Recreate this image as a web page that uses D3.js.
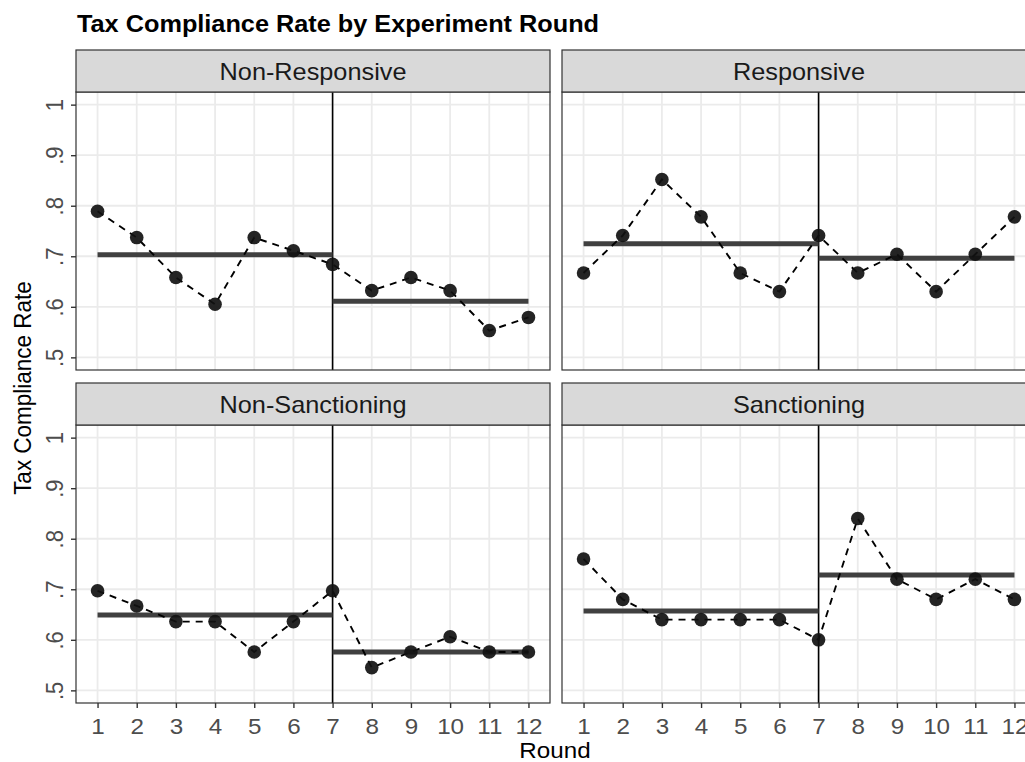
<!DOCTYPE html>
<html>
<head>
<meta charset="utf-8">
<script src="https://cdn.jsdelivr.net/npm/d3@7"></script>
<style>
  body { margin: 0; background: #fff; }
  svg { display: block; font-family: "Liberation Sans", Arial, Helvetica, sans-serif; }
</style>
</head>
<body>
<svg id="chart" width="1025" height="762"></svg>
<script>
// rounds of the experiment
var rounds = [1, 2, 3, 4, 5, 6, 7, 8, 9, 10, 11, 12];

// panel names, in facet order
var groups = ["Non-Responsive", "Responsive", "Non-Sanctioning", "Sanctioning"];

// compliance rate per round, one array per group
var nonResponsive  = [0.789, 0.737, 0.658, 0.605, 0.737, 0.711, 0.684, 0.632, 0.658, 0.632, 0.553, 0.579];
var responsive     = [0.667, 0.741, 0.852, 0.778, 0.667, 0.630, 0.741, 0.667, 0.704, 0.630, 0.704, 0.778];
var nonSanctioning = [0.697, 0.667, 0.636, 0.636, 0.576, 0.636, 0.697, 0.545, 0.576, 0.606, 0.576, 0.576];
var sanctioning    = [0.760, 0.680, 0.640, 0.640, 0.640, 0.640, 0.600, 0.840, 0.720, 0.680, 0.720, 0.680];

// group means before / after the break round
var preMeans  = [0.703, 0.725, 0.649, 0.657];
var postMeans = [0.611, 0.696, 0.576, 0.728];
var breakRound = 7;

var yTicks = [0.5, 0.6, 0.7, 0.8, 0.9, 1];
var yTickLabels = [".5", ".6", ".7", ".8", ".9", "1"];

var series = [nonResponsive, responsive, nonSanctioning, sanctioning];

// layout (the reference is a bit wider than tall, text is stretched)
var SX = 1.1,
    colX = [76, 562],
    rowY = [50, 383],
    stripH = 42,
    panelW = 474,
    panelH = 278;

var svg = d3.select("#chart");

var x = d3.scaleLinear().domain([0.45, 12.55]).range([0, panelW]);
var y = d3.scaleLinear().domain([0.475, 1.025]).range([panelH, 0]);

var line = d3.line()
    .x(function(d, i) { return x(rounds[i]); })
    .y(function(d) { return y(d); });

svg.append("text")
    .attr("transform", "translate(77,31.5) scale(" + SX + ",1)")
    .attr("font-size", 23)
    .attr("font-weight", "bold")
    .attr("fill", "#000")
    .text("Tax Compliance Rate by Experiment Round");

groups.forEach(function(name, k) {
  var col = k % 2, row = Math.floor(k / 2),
      vals = series[k];

  var g = svg.append("g")
      .attr("transform", "translate(" + colX[col] + "," + (rowY[row] + stripH) + ")");

  // strip
  svg.append("rect")
      .attr("x", colX[col]).attr("y", rowY[row])
      .attr("width", panelW).attr("height", stripH)
      .attr("fill", "#d9d9d9").attr("stroke", "#333").attr("stroke-width", 1.2);
  svg.append("text")
      .attr("transform", "translate(" + (colX[col] + panelW / 2) + "," + (rowY[row] + stripH / 2 + 8.5) + ") scale(" + SX + ",1)")
      .attr("text-anchor", "middle")
      .attr("font-size", 23)
      .attr("fill", "#1a1a1a")
      .text(name);

  // panel background + grid
  g.append("rect").attr("width", panelW).attr("height", panelH).attr("fill", "#fff");
  g.selectAll(".vgrid").data(rounds).enter().append("line")
      .attr("x1", x).attr("x2", x).attr("y1", 0).attr("y2", panelH)
      .attr("stroke", "#ebebeb").attr("stroke-width", 1.8);
  g.selectAll(".hgrid").data(yTicks).enter().append("line")
      .attr("x1", 0).attr("x2", panelW).attr("y1", y).attr("y2", y)
      .attr("stroke", "#ebebeb").attr("stroke-width", 1.8);

  // break round
  g.append("line")
      .attr("x1", x(breakRound)).attr("x2", x(breakRound))
      .attr("y1", 0).attr("y2", panelH)
      .attr("stroke", "#000").attr("stroke-width", 1.6);

  // mean segments
  g.append("line")
      .attr("x1", x(rounds[0])).attr("x2", x(breakRound))
      .attr("y1", y(preMeans[k])).attr("y2", y(preMeans[k]))
      .attr("stroke", "#404040").attr("stroke-width", 5);
  g.append("line")
      .attr("x1", x(breakRound)).attr("x2", x(rounds[rounds.length - 1]))
      .attr("y1", y(postMeans[k])).attr("y2", y(postMeans[k]))
      .attr("stroke", "#404040").attr("stroke-width", 5);

  // dashed path + points
  g.append("path")
      .datum(vals)
      .attr("d", line)
      .attr("fill", "none")
      .attr("stroke", "#000")
      .attr("stroke-width", 1.9)
      .attr("stroke-dasharray", "7,6");
  g.selectAll(".pt").data(vals).enter().append("circle")
      .attr("cx", function(d, i) { return x(rounds[i]); })
      .attr("cy", y)
      .attr("r", 6.8)
      .attr("fill", "#111")
      .attr("fill-opacity", 0.92);

  // border
  g.append("rect").attr("width", panelW).attr("height", panelH)
      .attr("fill", "none").attr("stroke", "#333").attr("stroke-width", 1.2);

  // axes
  if (col == 0) {
    var ay = g.append("g").call(d3.axisLeft(y).tickValues(yTicks).tickSize(5)
        .tickFormat(function(d, i) { return yTickLabels[i]; }));
    ay.select(".domain").remove();
    ay.selectAll("line").attr("stroke", "#333").attr("stroke-width", 1.4);
    ay.selectAll("text")
        .attr("x", 0).attr("dy", 0)
        .attr("transform", "translate(-13,0) scale(" + SX + ",1) rotate(-90)")
        .attr("text-anchor", "middle")
        .attr("font-size", 22)
        .attr("font-family", null)
        .attr("fill", "#4d4d4d");
  }
  if (row == 1) {
    var ax = g.append("g").attr("transform", "translate(0," + panelH + ")")
        .call(d3.axisBottom(x).tickValues(rounds).tickSize(5).tickFormat(d3.format("d")));
    ax.select(".domain").remove();
    ax.selectAll("line").attr("stroke", "#333").attr("stroke-width", 1.4);
    ax.selectAll("text")
        .attr("y", 0).attr("dy", 0)
        .attr("transform", "translate(0,30.5) scale(" + SX + ",1)")
        .attr("font-size", 22)
        .attr("font-family", null)
        .attr("fill", "#4d4d4d");
  }
});

// axis titles
svg.append("text")
    .attr("transform", "translate(555,758) scale(" + SX + ",1)")
    .attr("text-anchor", "middle")
    .attr("font-size", 22)
    .attr("fill", "#000")
    .text("Round");

svg.append("text")
    .attr("transform", "translate(31,388) scale(" + SX + ",1) rotate(-90)")
    .attr("text-anchor", "middle")
    .attr("font-size", 22.5)
    .attr("fill", "#000")
    .text("Tax Compliance Rate");
</script>
</body>
</html>
